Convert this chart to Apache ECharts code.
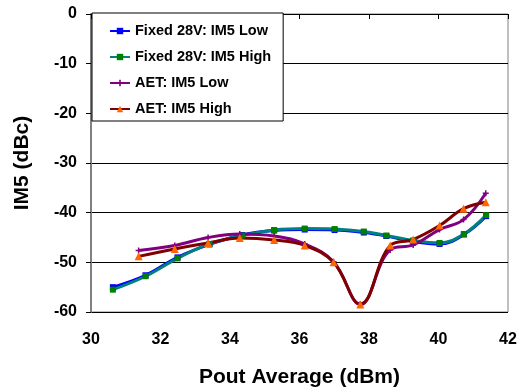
<!DOCTYPE html>
<html>
<head>
<meta charset="utf-8">
<script src="https://cdn.jsdelivr.net/npm/echarts@6/dist/echarts.min.js"></script>
<style>html,body{margin:0;padding:0;background:#fff}#c{width:519px;height:389px}</style>
</head>
<body>
<div id="c"></div>
<script>
var xFixed = [30.63, 31.57, 32.49, 33.41, 34.35, 35.27, 36.15, 37.01, 37.85, 38.5, 39.27, 40.03, 40.73, 41.37];
var fixedLow = [-55.0, -52.6, -49.0, -46.4, -44.5, -43.6, -43.4, -43.5, -44.0, -44.7, -45.8, -46.3, -44.4, -40.7];
var fixedHigh = [-55.5, -52.8, -49.2, -46.3, -44.6, -43.5, -43.2, -43.3, -43.8, -44.6, -45.6, -46.1, -44.3, -40.5];
var xAet = [31.37, 32.41, 33.37, 34.28, 35.27, 36.15, 36.98, 37.75, 38.61, 39.27, 40.03, 40.72, 41.36];
var aetLow = [-47.6, -46.6, -45.0, -44.3, -44.7, -46.3, -49.9, -58.4, -47.5, -46.5, -43.4, -41.4, -36.1];
var aetHigh = [-48.8, -47.3, -46.1, -45.1, -45.5, -46.6, -50.0, -58.5, -46.6, -45.4, -42.6, -39.2, -37.9];
var seriesNames = ['Fixed 28V: IM5 Low', 'Fixed 28V: IM5 High', 'AET: IM5 Low', 'AET: IM5 High'];
var xTicks = [30, 32, 34, 36, 38, 40, 42];
var yTicks = [-60, -50, -40, -30, -20, -10, 0];

function pairs(xs, ys) { return xs.map(function (x, i) { return [x, ys[i]]; }); }

var FONT = 'Liberation Sans, Arial, sans-serif';
var chart = echarts.init(document.getElementById('c'), null, {renderer: 'canvas'});
chart.setOption({
  animation: false,
  backgroundColor: '#fff',
  grid: {left: 91, right: 11, top: 14, bottom: 77, show: true, borderColor: '#808080', borderWidth: 1,
         backgroundColor: 'transparent', containLabel: false, outerBoundsMode: 'none'},
  legend: {
    orient: 'vertical', left: 92, top: 13,
    backgroundColor: '#fff', borderColor: '#000', borderWidth: 1,
    padding: [10, 12, 4, 17], itemGap: 10, itemWidth: 20, itemHeight: 8,
    textStyle: {fontFamily: FONT, fontWeight: 'bold', fontSize: 14.5, color: '#000', lineHeight: 16},
    data: seriesNames
  },
  xAxis: {
    type: 'value', min: xTicks[0], max: xTicks[xTicks.length - 1], interval: 2,
    name: 'Pout Average (dBm)', nameLocation: 'middle', nameGap: 55,
    nameTextStyle: {fontFamily: FONT, fontWeight: 'bold', fontSize: 21, color: '#000'},
    axisLine: {lineStyle: {color: '#000', width: 1}},
    axisTick: {show: true, length: 5, inside: false, lineStyle: {color: '#000'}},
    axisLabel: {margin: 20, fontFamily: FONT, fontWeight: 'bold', fontSize: 16, color: '#000'},
    splitLine: {show: false}
  },
  yAxis: {
    type: 'value', min: yTicks[0], max: yTicks[yTicks.length - 1], interval: 10,
    name: 'IM5 (dBc)', nameLocation: 'middle', nameGap: 58, nameRotate: 90,
    nameTextStyle: {fontFamily: FONT, fontWeight: 'bold', fontSize: 21, color: '#000'},
    axisLine: {show: true, lineStyle: {color: '#808080', width: 2}},
    axisTick: {show: true, length: 5, inside: false, lineStyle: {color: '#000'}},
    axisLabel: {margin: 14, fontFamily: FONT, fontWeight: 'bold', fontSize: 16, color: '#000'},
    splitLine: {show: true, lineStyle: {color: '#000', width: 1}}
  },
  series: [
    {name: seriesNames[0], type: 'line', smooth: 0.4, data: pairs(xFixed, fixedLow),
     symbol: 'rect', symbolSize: 6, lineStyle: {color: '#0000FF', width: 3}, itemStyle: {color: '#0000FF'}},
    {name: seriesNames[1], type: 'line', smooth: 0.4, data: pairs(xFixed, fixedHigh),
     symbol: 'rect', symbolSize: 6, lineStyle: {color: '#008080', width: 3}, itemStyle: {color: '#008000'}},
    {name: seriesNames[2], type: 'line', smooth: 0.4, data: pairs(xAet, aetLow),
     symbol: 'path://M3,0h2v3h3v2h-3v3h-2v-3h-3v-2h3z', symbolSize: 6, lineStyle: {color: '#800080', width: 3}, itemStyle: {color: '#800080'}},
    {name: seriesNames[3], type: 'line', smooth: 0.4, data: pairs(xAet, aetHigh),
     symbol: 'triangle', symbolSize: 8, lineStyle: {color: '#800000', width: 3}, itemStyle: {color: '#FF6600'}}
  ]
});
</script>
</body>
</html>
